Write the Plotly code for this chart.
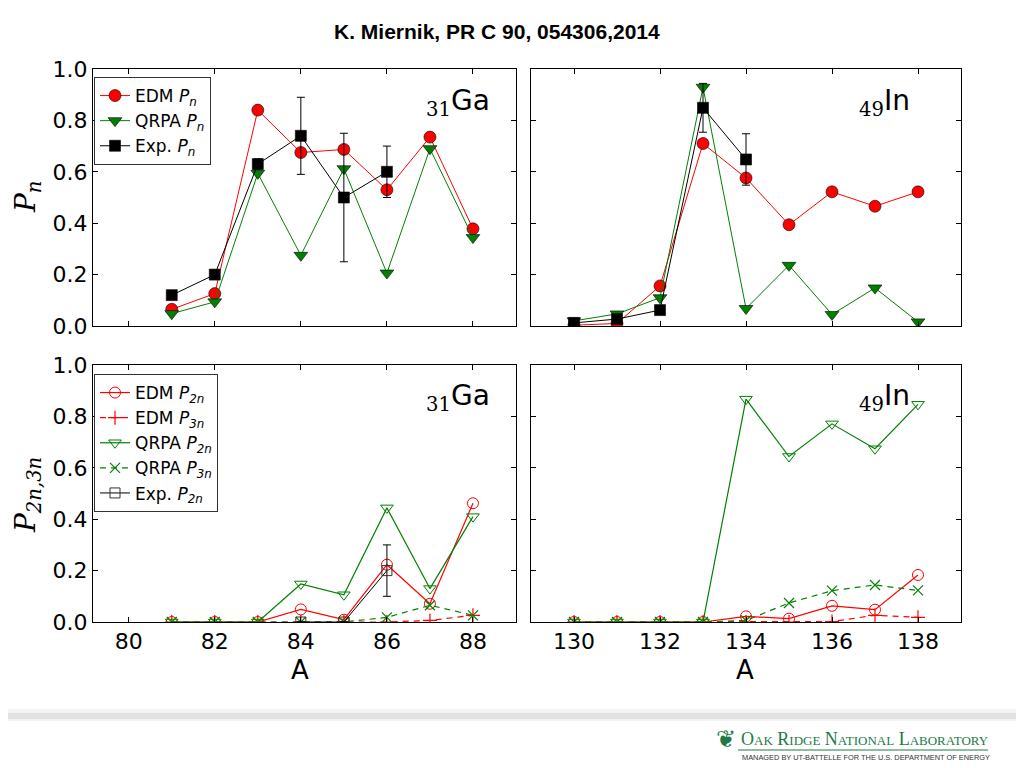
import plotly.graph_objects as go

# ---------------- data ----------------
ga_A = [81, 82, 83, 84, 85, 86, 87, 88]
ga_edm_pn = [0.065, 0.126, 0.84, 0.675, 0.687, 0.53, 0.735, 0.378]
ga_qrpa_pn = [0.048, 0.094, 0.594, 0.275, 0.612, 0.206, 0.69, 0.344]
ga_exp_A = [81, 82, 83, 84, 85, 86]
ga_exp_pn = [0.12, 0.2, 0.63, 0.74, 0.5, 0.6]
ga_exp_pn_err = [0.005, 0.005, 0.02, 0.15, 0.25, 0.1]

in_A = [130, 131, 132, 133, 134, 135, 136, 137, 138]
in_edm_pn = [0.003, 0.01, 0.156, 0.71, 0.576, 0.394, 0.522, 0.466, 0.522]
in_qrpa_pn = [0.02, 0.047, 0.11, 0.929, 0.068, 0.236, 0.045, 0.148, 0.016]
in_exp_A = [130, 131, 132, 133, 134]
in_exp_pn = [0.012, 0.027, 0.062, 0.849, 0.648]
in_exp_pn_err = [0.0, 0.0, 0.0, 0.095, 0.1]

ga_edm_p2n = [0, 0, 0, 0.049, 0.009, 0.223, 0.071, 0.462]
ga_edm_p3n = [0, 0, 0, 0, 0, 0, 0.006, 0.026]
ga_qrpa_p2n = [0, 0, 0, 0.148, 0.106, 0.444, 0.13, 0.41]
ga_qrpa_p3n = [0, 0, 0, 0, 0, 0.018, 0.065, 0.026]
ga_exp2_A = [84, 85, 86]
ga_exp_p2n = [0.0, 0.0, 0.2]
ga_exp_p2n_err = [0.0, 0.0, 0.1]

in_edm_p2n = [0, 0, 0, 0, 0.022, 0.013, 0.063, 0.048, 0.183]
in_edm_p3n = [0, 0, 0, 0, 0, 0, 0.002, 0.026, 0.018]
in_qrpa_p2n = [0, 0, 0, 0, 0.867, 0.644, 0.771, 0.674, 0.847]
in_qrpa_p3n = [0, 0, 0, 0, 0.006, 0.074, 0.122, 0.144, 0.123]

y_ticks = [0.0, 0.2, 0.4, 0.6, 0.8, 1.0]
ga_ticks = [80, 82, 84, 86, 88]
in_ticks = [130, 132, 134, 136, 138]

RED = "#ff0000"
GREEN = "#008000"
OFF = 8  # page body margin
W, H = 1024 - OFF, 768 - OFF


def px_x(p):
    return (p - OFF) / W


def px_y(p):
    return 1 - (p - OFF) / H


fig = go.Figure()

EDGE = dict(color="black", width=0.6)


def sub(lbl):
    return "<i>P</i><sub><i>" + lbl + "</i></sub>"


# ---------- top panels ----------
for A, edm, qrpa, eA, ev, ee, xa, ya, show in [
    (ga_A, ga_edm_pn, ga_qrpa_pn, ga_exp_A, ga_exp_pn, ga_exp_pn_err, "x", "y", True),
    (in_A, in_edm_pn, in_qrpa_pn, in_exp_A, in_exp_pn, in_exp_pn_err, "x2", "y2", False),
]:
    fig.add_trace(go.Scatter(x=A, y=edm, mode="lines+markers", name="EDM " + sub("n"),
                             line=dict(color=RED, width=1),
                             marker=dict(symbol="circle", size=12, color=RED, line=EDGE),
                             xaxis=xa, yaxis=ya, showlegend=show, legend="legend"))
    fig.add_trace(go.Scatter(x=A, y=qrpa, mode="lines+markers", name="QRPA " + sub("n"),
                             line=dict(color=GREEN, width=1),
                             marker=dict(symbol="triangle-down", size=12, color=GREEN, line=EDGE),
                             xaxis=xa, yaxis=ya, showlegend=show, legend="legend"))
    fig.add_trace(go.Scatter(x=eA, y=ev, mode="lines+markers", name="Exp. " + sub("n"),
                             line=dict(color="black", width=1),
                             marker=dict(symbol="square", size=11, color="black", line=EDGE),
                             error_y=dict(type="data", array=ee, visible=True, color="black",
                                          thickness=1, width=4),
                             xaxis=xa, yaxis=ya, showlegend=show, legend="legend"))

# ---------- bottom panels ----------
for A, e2, e3, q2, q3, xa, ya, show in [
    (ga_A, ga_edm_p2n, ga_edm_p3n, ga_qrpa_p2n, ga_qrpa_p3n, "x3", "y3", True),
    (in_A, in_edm_p2n, in_edm_p3n, in_qrpa_p2n, in_qrpa_p3n, "x4", "y4", False),
]:
    fig.add_trace(go.Scatter(x=A, y=e2, mode="lines+markers", name="EDM " + sub("2n"),
                             line=dict(color=RED, width=1.2),
                             marker=dict(symbol="circle-open", size=11, color=RED, line=dict(width=1)),
                             xaxis=xa, yaxis=ya, showlegend=show, legend="legend2"))
    fig.add_trace(go.Scatter(x=A, y=e3, mode="lines+markers", name="EDM " + sub("3n"),
                             line=dict(color=RED, width=1.2, dash="6px,5px"),
                             marker=dict(symbol="cross-thin-open", size=10, color=RED, line=dict(width=1.2, color=RED)),
                             xaxis=xa, yaxis=ya, showlegend=show, legend="legend2"))
    fig.add_trace(go.Scatter(x=A, y=q2, mode="lines+markers", name="QRPA " + sub("2n"),
                             line=dict(color=GREEN, width=1.2),
                             marker=dict(symbol="triangle-down-open", size=11, color=GREEN, line=dict(width=1)),
                             xaxis=xa, yaxis=ya, showlegend=show, legend="legend2"))
    fig.add_trace(go.Scatter(x=A, y=q3, mode="lines+markers", name="QRPA " + sub("3n"),
                             line=dict(color=GREEN, width=1.2, dash="6px,5px"),
                             marker=dict(symbol="x-thin-open", size=10, color=GREEN, line=dict(width=1.2, color=GREEN)),
                             xaxis=xa, yaxis=ya, showlegend=show, legend="legend2"))
    if show:
        fig.add_trace(go.Scatter(x=ga_exp2_A, y=ga_exp_p2n, mode="lines+markers", name="Exp. " + sub("2n"),
                                 line=dict(color="black", width=1),
                                 marker=dict(symbol="square-open", size=10, color="#333333", line=dict(width=1)),
                                 error_y=dict(type="data", array=ga_exp_p2n_err, visible=True, color="black",
                                              thickness=1, width=4),
                                 xaxis=xa, yaxis=ya, showlegend=True, legend="legend2"))

# ---------- axes ----------
TICKFONT = dict(family="DejaVu Sans", size=22, color="black")
common = dict(showline=True, linecolor="black", linewidth=1, mirror="ticks", ticks="inside",
              ticklen=5, tickcolor="black", tickwidth=1, showgrid=False, zeroline=False,
              tickfont=TICKFONT, automargin=False)

xL = [px_x(93), px_x(516)]
xR = [px_x(531), px_x(961)]
yT = [px_y(326), px_y(69)]
yB = [px_y(622), px_y(365)]

fig.update_layout(
    xaxis=dict(domain=xL, anchor="y", range=[79.17, 89], tickvals=ga_ticks, showticklabels=False, **common),
    yaxis=dict(domain=yT, anchor="x", range=[0, 1], tickvals=y_ticks, ticktext=[f"{v:.1f}" for v in y_ticks], **common),
    xaxis2=dict(domain=xR, anchor="y2", range=[129, 139], tickvals=in_ticks, showticklabels=False, **common),
    yaxis2=dict(domain=yT, anchor="x2", range=[0, 1], tickvals=y_ticks, showticklabels=False, **common),
    xaxis3=dict(domain=xL, anchor="y3", range=[79.17, 89], tickvals=ga_ticks, **common),
    yaxis3=dict(domain=yB, anchor="x3", range=[0, 1], tickvals=y_ticks, ticktext=[f"{v:.1f}" for v in y_ticks], **common),
    xaxis4=dict(domain=xR, anchor="y4", range=[129, 139], tickvals=in_ticks, **common),
    yaxis4=dict(domain=yB, anchor="x4", range=[0, 1], tickvals=y_ticks, showticklabels=False, **common),
)

LEGSTYLE = dict(xanchor="left", yanchor="top", bgcolor="white", bordercolor="#333333", borderwidth=1,
                font=dict(family="DejaVu Sans", size=17, color="black"), itemwidth=30)
fig.update_layout(
    legend=dict(x=px_x(94), y=px_y(77), **LEGSTYLE),
    legend2=dict(x=px_x(94), y=px_y(374), **LEGSTYLE),
)

# ---------- annotations ----------
SERIF = "DejaVu Serif"
MID = dict(xref="paper", yref="paper", showarrow=False, xanchor="center", yanchor="middle")
ann = []
for x, y, z, el in [(458, 102, "31", "Ga"), (884, 102, "49", "In"), (458, 397, "31", "Ga"), (884, 397, "49", "In")]:
    ann.append(dict(x=px_x(x), y=px_y(y), **MID,
                    text=f"<sub><span style='font-family:{SERIF}'>{z}</span></sub>{el}",
                    font=dict(family="DejaVu Sans", size=28, color="black")))
ann.append(dict(x=px_x(27), y=px_y(197), **MID, textangle=-90,
                text="<i>P</i><sub><i>n</i></sub>", font=dict(family=SERIF, size=28, color="black")))
ann.append(dict(x=px_x(27), y=px_y(495), **MID, textangle=-90,
                text="<i>P</i><sub><i>2n,3n</i></sub>", font=dict(family=SERIF, size=28, color="black")))
for x in [300, 745]:
    ann.append(dict(x=px_x(x), y=px_y(670), **MID, text="A",
                    font=dict(family="DejaVu Sans", size=26, color="black")))
ann.append(dict(x=px_x(497), y=px_y(31), **MID,
                text="<b>K. Miernik, PR C 90, 054306,2014</b>",
                font=dict(family="Liberation Sans Narrow, Arial Narrow, Liberation Sans", size=21, color="black")))
ann.append(dict(x=px_x(739), y=px_y(739), xref="paper", yref="paper", showarrow=False,
                xanchor="left", yanchor="middle",
                text="O<span style='font-size:13px'>AK</span> R<span style='font-size:13px'>IDGE</span> "
                     "N<span style='font-size:13px'>ATIONAL</span> L<span style='font-size:13px'>ABORATORY</span>",
                font=dict(family="Liberation Serif", size=18, color="#1d7a46")))
ann.append(dict(x=px_x(740), y=px_y(757), xref="paper", yref="paper", showarrow=False,
                xanchor="left", yanchor="middle",
                text="MANAGED BY UT-BATTELLE FOR THE U.S. DEPARTMENT OF ENERGY",
                font=dict(family="Liberation Sans", size=7.4, color="#333333")))
ann.append(dict(x=px_x(726), y=px_y(739), **MID,
                text="\u2766", font=dict(family="DejaVu Sans", size=24, color="#1d7a46")))
fig.update_layout(annotations=ann)

shapes = [
    dict(type="rect", xref="paper", yref="paper", x0=0, x1=1, y0=px_y(721), y1=px_y(709),
         fillcolor="#f3f3f3", line=dict(width=0), layer="below"),
    dict(type="rect", xref="paper", yref="paper", x0=0, x1=1, y0=px_y(719), y1=px_y(713),
         fillcolor="#e2e2e2", line=dict(width=0), layer="below"),
    dict(type="line", xref="paper", yref="paper", x0=px_x(738), x1=px_x(988), y0=px_y(750), y1=px_y(750),
         line=dict(color="#1d7a46", width=1)),
]
fig.update_layout(shapes=shapes)

fig.update_layout(width=W, height=H, margin=dict(l=0, r=0, t=0, b=0, pad=0, autoexpand=False),
                  paper_bgcolor="white", plot_bgcolor="white", template="none")

fig.write_html("out.html")
